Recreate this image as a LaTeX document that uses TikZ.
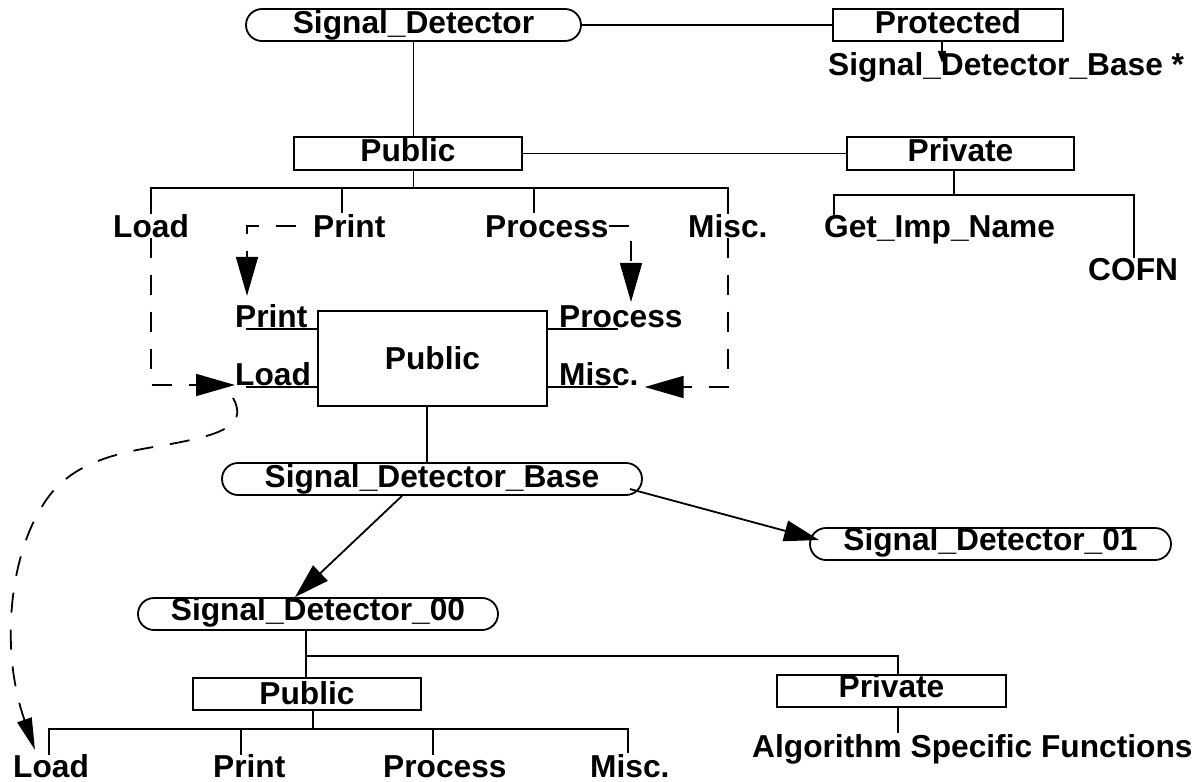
\documentclass[tikz,border=0pt]{standalone}
\usepackage{fontspec}
\setmainfont{Liberation Sans}
\usetikzlibrary{arrows.meta,calc}
\begin{document}
\begin{tikzpicture}[x=1pt,y=-1pt,
  every node/.style={font=\fontsize{31.7}{32}\selectfont\bfseries},
  ln/.style={line width=1.8pt},
  bx/.style={draw,line width=1.8pt,inner sep=0pt,minimum height=32pt,text height=22pt,text depth=#1},
  bx/.default=6pt,
  stad/.style={bx=#1,rounded corners=16pt},
  stad/.default=6pt,
  lbl/.style={inner sep=0pt,anchor=base west},
  dsh/.style={line width=1.8pt,dash pattern=on 20pt off 17pt},
  big/.style={-{Triangle[length=39pt,width=22pt]}},
  mid/.style={-{Triangle[length=35pt,width=21pt]}},
]
\useasboundingbox (0,0) rectangle (1203,782);

% top level
\node[stad,minimum width=335pt] (sd) at (413.5,25) {Signal\_Detector};
\node[bx,minimum width=230pt] (prot) at (948,25) {Protected};
\node[lbl] (sdbs) at (828,75) {Signal\_Detector\_Base *};
\node[bx,minimum width=228pt,minimum height=33pt] (pub1) at (408,153.5) {Public};
\node[bx,minimum width=227pt,minimum height=33pt] (priv1) at (960.5,153.5) {Private};
\node[lbl] (gin) at (824,237) {Get\_Imp\_Name};
\node[lbl] (cofn) at (1088,280) {COFN};

% row 1 labels
\node[lbl] (tLoad) at (113,237) {Load};
\node[lbl] (tPrint) at (313,237) {Print};
\node[lbl] (tProc) at (485,237) {Process};
\node[lbl] (tMisc) at (688,237) {Misc.};

% central box
\node[bx=0pt,minimum width=229pt,minimum height=95pt] (cbox) at (432.5,358.5) {Public};
\node[lbl] (bPrint) at (235,327) {Print};
\node[lbl] (bLoad) at (235,385) {Load};
\node[lbl] (bProc) at (559,327) {Process};
\node[lbl] (bMisc) at (559,385) {Misc.};

% lower part
\node[stad,minimum width=420pt] (sdb) at (432,479) {Signal\_Detector\_Base};
\node[stad=10pt,minimum width=361pt] (sd01) at (990.5,544) {Signal\_Detector\_01};
\node[stad=10pt,minimum width=360pt] (sd00) at (318,614) {Signal\_Detector\_00};
\node[bx=2pt,minimum width=228pt] (pub2) at (307,694) {Public};
\node[bx=10pt,minimum width=229pt] (priv2) at (891.5,691) {Private};
\node[lbl] (alg) at (752,757) {Algorithm Specific Functions};
\node[lbl] (uLoad) at (13,777) {Load};
\node[lbl] (uPrint) at (213,777) {Print};
\node[lbl] (uProc) at (383,777) {Process};
\node[lbl] (uMisc) at (590,777) {Misc.};

% top connectors
\draw[ln] (sd.east) -- (prot.west);
\draw[ln,-{Triangle[length=12pt,width=8pt]}] ($(prot.south)+(-6,0)$) -- ($(prot.south)+(-6,21)$);
\draw[ln] (sd.south) -- (sd.south |- pub1.north);
\draw[ln] (pub1.east) -- (priv1.west);

% private tree
\coordinate (pv) at ($(priv1.south)+(-6.5,0)$);
\draw[ln] (pv) -- (pv |- 0,195);
\draw[ln] (834,216) |- (1134,195) -- (1134,258);

% public bus
\draw[ln] (sd.south |- pub1.south) -- (sd.south |- 0,188);
\draw[ln] (tLoad.north) |- (tMisc.north |- 0,188) -- (tMisc.north);
\draw[ln] (342,188) -- (342,213);
\draw[ln] (534,188) -- (534,213);

% dashed elbow connectors
\draw[dsh,big] (tLoad.south) |- (bLoad.base west);
\draw[dsh,dash phase=20pt,big] (tPrint.west) -| ($(bPrint.north west)+(12,-8)$);
\draw[dsh,big] (tProc.east) -| ($(bProc.north west)+(72,-3)$);
\draw[dsh,big] (tMisc.south) |- ($(bMisc.base east)+(6,2)$);

% port stubs
\draw[ln] (cbox.west |- 0,329) -- (246,329);
\draw[ln] (cbox.west |- 0,387) -- (246,387);
\draw[ln] (cbox.east |- 0,329) -- (618,329);
\draw[ln] (cbox.east |- 0,387) -- (618,387);

% center to base
\draw[ln] (cbox.south -| 427,0) -- (sdb.north -| 427,0);

% inheritance arrows
\draw[ln,mid] ($(sdb.east)+(-13,10)$) -- ($(sd01.west)+(10,-4)$);
\draw[ln,mid] ($(sdb.south)+(-30,0)$) -- ($(sd00.north)+(-23,0)$);

% sd00 tree
\draw[ln] (sd00.south -| 306,0) -- (pub2.north -| 306,0);
\draw[ln] (306,656) -| (priv2.north -| 898,0);
\draw[ln] (pub2.south -| 313,0) -- (313,729);
\draw[ln] (49,755) |- (628,729) -- (628,753);
\draw[ln] (241,729) -- (241,755);
\draw[ln] (433,729) -- (433,755);
\draw[ln] (priv2.south -| 898,0) -- (898,733);

% dashed curve
\coordinate (cs) at (233,398);
\coordinate (ce) at (35,750);
\draw[dsh,-{Triangle[length=32pt,width=15pt]}] (cs) .. controls (250,428) and (215,436) .. (160,446) .. controls (100,455) and (62,470) .. (40,510) .. controls (10,560) and (0,650) .. (ce);
\end{tikzpicture}
\end{document}
